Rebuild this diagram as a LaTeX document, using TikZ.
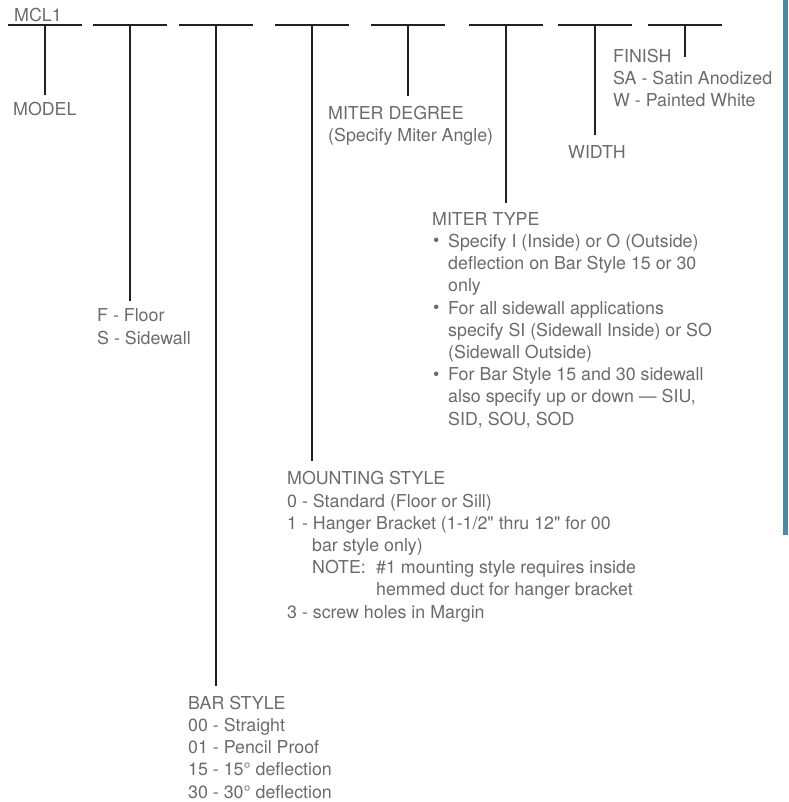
\documentclass[tikz,border=0pt]{standalone}
\usepackage{fontspec}
\setmainfont{TeX Gyre Heros}[Ligatures=TeXOff]
\usetikzlibrary{calc}
\definecolor{LineClr}{rgb}{0.14,0.12,0.13}
\definecolor{TextClr}{rgb}{0.42,0.42,0.42}
\definecolor{BarClr}{rgb}{0.29,0.54,0.65}
\newcommand\bul{\makebox[16pt][l]{\hspace{1pt}\raisebox{0.5pt}{\fontsize{18}{18}\selectfont\textbullet}}}
\newcommand\ind{\hspace*{16pt}}

\begin{document}
\begin{tikzpicture}[x=1pt,y=-1pt,
  blank/.style={line width=2.2pt,color=LineClr},
  leader/.style={line width=2.2pt,color=LineClr},
  lbl/.style={anchor=base west,inner sep=0pt,align=left,text=TextClr,
    font=\fontsize{17.8}{22.2}\selectfont}]
\useasboundingbox (0,0) rectangle (788,802);

% side bar
\fill[BarClr] (783,0) rectangle (788,535);

% blanks of the part number
\foreach \i/\x in {1/45,2/130,3/216,4/312,5/408,6/506,7/595,8/685}{
  \coordinate (s\i) at (\x,25);
  \draw[blank] ([xshift=-37pt]s\i) -- ([xshift=37pt]s\i);
}

% labels (base = baseline of last line)
\node[lbl] (mcl)    at (14,22)  {MCL1};
\node[lbl] (model)  at (13,116) {MODEL};
\node[lbl] (floor)  at (97,344) {F - Floor\\S - Sidewall};
\node[lbl] (bar)    at (188,798) {BAR STYLE\\00 - Straight\\01 - Pencil Proof\\
  15 - 15° deflection\\30 - 30° deflection};
\node[lbl] (mount)  at (287,618) {MOUNTING STYLE\\0 - Standard (Floor or Sill)\\
  1 - Hanger Bracket (1-1/2" thru 12" for 00\\
  \hspace*{25pt}bar style only)\\
  \hspace*{25pt}\makebox[64pt][l]{NOTE:}\#1 mounting style requires inside\\
  \hspace*{89pt}hemmed duct for hanger bracket\\
  3 - screw holes in Margin};
\node[lbl] (degree) at (328,142) {MITER DEGREE\\(Specify Miter Angle)};
\node[lbl] (type)   at (432,425) {MITER TYPE\\
  \bul Specify I (Inside) or O (Outside)\\
  \ind deflection on Bar Style 15 or 30\\
  \ind only\\
  \bul For all sidewall applications\\
  \ind specify SI (Sidewall Inside) or SO\\
  \ind (Sidewall Outside)\\
  \bul For Bar Style 15 and 30 sidewall\\
  \ind also specify up or down — SIU,\\
  \ind SID, SOU, SOD};
\node[lbl] (width)  at (568,159) {WIDTH};
\node[lbl] (finish) at (613,107) {FINISH\\SA - Satin Anodized\\W - Painted White};

% leaders down to the labels
\draw[leader] (s1) -- ([yshift=8pt]s1 |- model.north);
\draw[leader] (s2) -- ([yshift=8pt]s2 |- floor.north);
\draw[leader] (s3) -- ([yshift=10pt]s3 |- bar.north);
\draw[leader] (s4) -- ([yshift=10pt]s4 |- mount.north);
\draw[leader] (s5) -- ([yshift=10pt]s5 |- degree.north);
\draw[leader] (s6) -- ([yshift=9pt]s6 |- type.north);
\draw[leader] (s7) -- ([yshift=11pt]s7 |- width.north);
\draw[leader] (s8) -- ([yshift=-8pt]s8 |- finish.north);

\end{tikzpicture}
\end{document}
